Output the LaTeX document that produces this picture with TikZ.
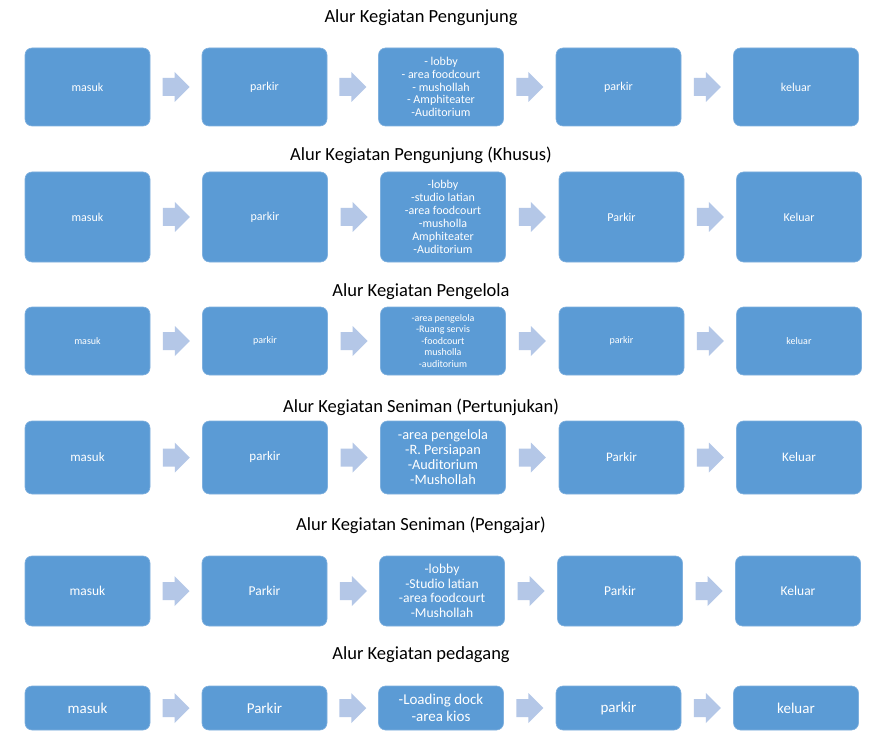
\documentclass[tikz,border=0pt]{standalone}
\usepackage{fontspec}
\setmainfont{Carlito}
\usetikzlibrary{calc}
\definecolor{boxblue}{HTML}{5B9BD5}
\definecolor{boxedge}{HTML}{7FB0DE}
\definecolor{arrowblue}{HTML}{B4C7E7}
\newcommand\fs[2]{\fontsize{#1}{#2}\selectfont}
\newcommand\rowarrows[1]{\foreach \i/\j in {1/2,2/3,3/4,4/5}{\pic at ($(#1b\i.east)!0.5!(#1b\j.west)$) {blockarrow};}}
\tikzset{
  flowbox/.style={rounded corners=7pt, fill=boxblue, draw=boxedge, line width=0.6pt,
    text=white, align=center, inner sep=0pt, minimum width=125pt},
  rowtitle/.style={text=black, inner sep=0pt, font=\fs{18.5}{22}},
  blockarrow/.pic={\fill[arrowblue] (-13.5,-9) -- (-1.5,-9) -- (-1.5,-15) -- (13.5,0) -- (-1.5,15) -- (-1.5,9) -- (-13.5,9) -- cycle;}
}
\begin{document}
\begin{tikzpicture}[x=1pt,y=-1pt]
\useasboundingbox (0,0) rectangle (871,749);
\fill[white] (0,0) rectangle (871,749);

% Row 1
\node[rowtitle] (t1) at (421,18) {Alur Kegiatan Pengunjung};
\begin{scope}[every node/.append style={minimum height=78pt}]
\node[flowbox, font=\fs{12}{12.7}] (r1b1) at (87.5,87) {masuk};
\node[flowbox, font=\fs{12}{12.7}] (r1b2) at (264.5,87) {parkir};
\node[flowbox, font=\fs{12}{12.7}] (r1b3) at (441,87) {- lobby\\- area foodcourt\\- mushollah\\- Amphiteater\\-Auditorium};
\node[flowbox, font=\fs{12}{12.7}] (r1b4) at (618.5,87) {parkir};
\node[flowbox, font=\fs{12}{12.7}] (r1b5) at (796,87) {keluar};
\end{scope}
\rowarrows{r1}

% Row 2
\node[rowtitle] (t2) at (421,155) {Alur Kegiatan Pengunjung (Khusus)};
\begin{scope}[every node/.append style={minimum height=90pt}]
\node[flowbox, font=\fs{12}{13}] (r2b1) at (87.5,217) {masuk};
\node[flowbox, font=\fs{12}{13}] (r2b2) at (265,217) {parkir};
\node[flowbox, font=\fs{12}{13}] (r2b3) at (443,217) {-lobby\\-studio latian\\-area foodcourt\\-musholla\\Amphiteater\\-Auditorium};
\node[flowbox, font=\fs{12}{13}] (r2b4) at (621.5,217) {Parkir};
\node[flowbox, font=\fs{12}{13}] (r2b5) at (799,217) {Keluar};
\end{scope}
\rowarrows{r2}

% Row 3
\node[rowtitle] (t3) at (421,292) {Alur Kegiatan Pengelola};
\begin{scope}[every node/.append style={minimum height=68pt}]
\node[flowbox, font=\fs{10}{11.5}] (r3b1) at (87.5,341) {masuk};
\node[flowbox, font=\fs{10}{11.5}] (r3b2) at (265,341) {parkir};
\node[flowbox, font=\fs{10}{11.5}] (r3b3) at (443,341) {-area pengelola\\-Ruang servis\\-foodcourt\\musholla\\-auditorium};
\node[flowbox, font=\fs{10}{11.5}] (r3b4) at (621.5,341) {parkir};
\node[flowbox, font=\fs{10}{11.5}] (r3b5) at (799,341) {keluar};
\end{scope}
\rowarrows{r3}

% Row 4
\node[rowtitle] (t4) at (421,407) {Alur Kegiatan Seniman (Pertunjukan)};
\begin{scope}[every node/.append style={minimum height=73pt}]
\node[flowbox, font=\fs{13}{15}] (r4b1) at (87.5,457.5) {masuk};
\node[flowbox, font=\fs{13}{15}] (r4b2) at (265,457.5) {parkir};
\node[flowbox, font=\fs{14.3}{15}] (r4b3) at (443,457.5) {-area pengelola\\-R. Persiapan\\-Auditorium\\-Mushollah};
\node[flowbox, font=\fs{13}{15}] (r4b4) at (621.5,457.5) {Parkir};
\node[flowbox, font=\fs{13}{15}] (r4b5) at (799,457.5) {Keluar};
\end{scope}
\rowarrows{r4}

% Row 5
\node[rowtitle] (t5) at (421,525) {Alur Kegiatan Seniman (Pengajar)};
\begin{scope}[every node/.append style={minimum height=70pt}]
\node[flowbox, font=\fs{13.5}{14.5}] (r5b1) at (87.5,591) {masuk};
\node[flowbox, font=\fs{13.5}{14.5}] (r5b2) at (264.5,591) {Parkir};
\node[flowbox, font=\fs{13.6}{14.5}] (r5b3) at (442,591) {-lobby\\-Studio latian\\-area foodcourt\\-Mushollah};
\node[flowbox, font=\fs{13.5}{14.5}] (r5b4) at (620,591) {Parkir};
\node[flowbox, font=\fs{13.5}{14.5}] (r5b5) at (798,591) {Keluar};
\end{scope}
\rowarrows{r5}

% Row 6
\node[rowtitle] (t6) at (421,655) {Alur Kegiatan pedagang};
\begin{scope}[every node/.append style={minimum height=44pt}]
\node[flowbox, font=\fs{15}{16.5}] (r6b1) at (87.5,708) {masuk};
\node[flowbox, font=\fs{15}{16.5}] (r6b2) at (264.5,708) {Parkir};
\node[flowbox, font=\fs{15}{16.5}] (r6b3) at (441,708) {-Loading dock\\-area kios};
\node[flowbox, font=\fs{15}{16.5}] (r6b4) at (618.5,708) {parkir};
\node[flowbox, font=\fs{15}{16.5}] (r6b5) at (796,708) {keluar};
\end{scope}
\rowarrows{r6}
\end{tikzpicture}
\end{document}
